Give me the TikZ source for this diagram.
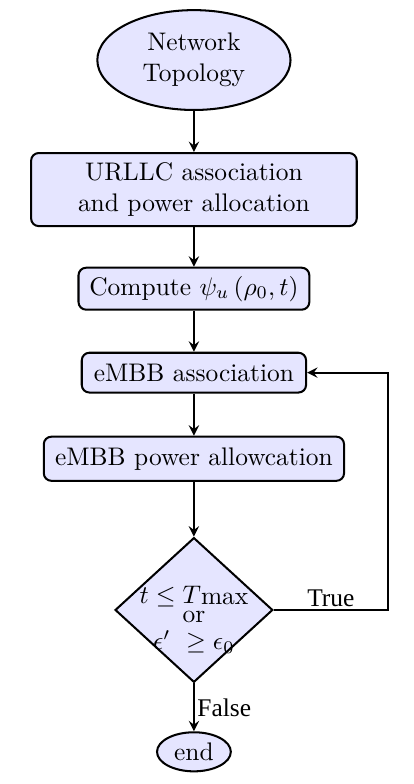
\documentclass[tikz,border=0pt]{standalone}
\usepackage{fontspec}
\newfontfamily\tflabel{Liberation Serif}
\usetikzlibrary{shapes.geometric}
\tikzset{
	blk/.style={draw, thick, fill=blue!10, rounded corners=3pt, align=center, inner sep=0pt},
	term/.style={draw, thick, fill=blue!10, ellipse, align=center, inner sep=0pt},
	cond/.style={draw, thick, fill=blue!10, diamond, inner sep=0pt},
	flow/.style={->, >=stealth, thick}
}

\begin{document}
\begin{tikzpicture}
		%%%%% START %%%%%
		
		\useasboundingbox (0, 0) rectangle (5.72, -10.835);
		
		\node[term, minimum width=2.67cm, minimum height=1.38cm] (topo) at (2.68, -0.83) {Network\\Topology};
		
		\node[blk, minimum width=4.5cm, minimum height=1.01cm] (urllc) at (2.68, -2.62) {URLLC association\\and power allocation};
		\node[blk, minimum width=3.19cm, minimum height=0.58cm] (comp) at (2.68, -3.99) {Compute $\psi_u\left(\rho_0, t\right)$};
		
		\node[blk, minimum width=3.1cm, minimum height=0.55cm] (assoc) at (2.68, -5.15) {eMBB association};
		\node[blk, minimum width=4.15cm, minimum height=0.61cm] (power) at (2.68, -6.34) {eMBB power allowcation};
		
		\node[cond, minimum width=2.18cm, minimum height=2.0cm] (dec) at (2.68, -8.43) {};
		\node[align=center, inner sep=0pt, yshift=-4pt] (dectext) at (dec) {$t \leq T$\raisebox{-0.4pt}{max}\\[-4.5pt]or\\[-1.4pt]$\epsilon'\ \geq \epsilon_0$};
		
		\node[term, minimum width=1.02cm, minimum height=0.54cm] (end) at (2.68, -10.39) {end};
		
		\coordinate (loop) at (5.36, -8.43);
		
		\draw[flow] (topo) -- (urllc);
		\draw[flow] (urllc) -- (comp);
		\draw[flow] (comp) -- (assoc);
		\draw[flow] (assoc) -- (power);
		\draw[flow] (power) -- (dec);
		\draw[flow] (dec.east) -- node[above, inner sep=1pt] {\tflabel True} (loop) |- (assoc.east);
		\draw[flow] (dec.south) -- node[right, inner sep=1pt] {\tflabel False} (end);
		
		%%%%% END %%%%%
	\end{tikzpicture}
\end{document}
